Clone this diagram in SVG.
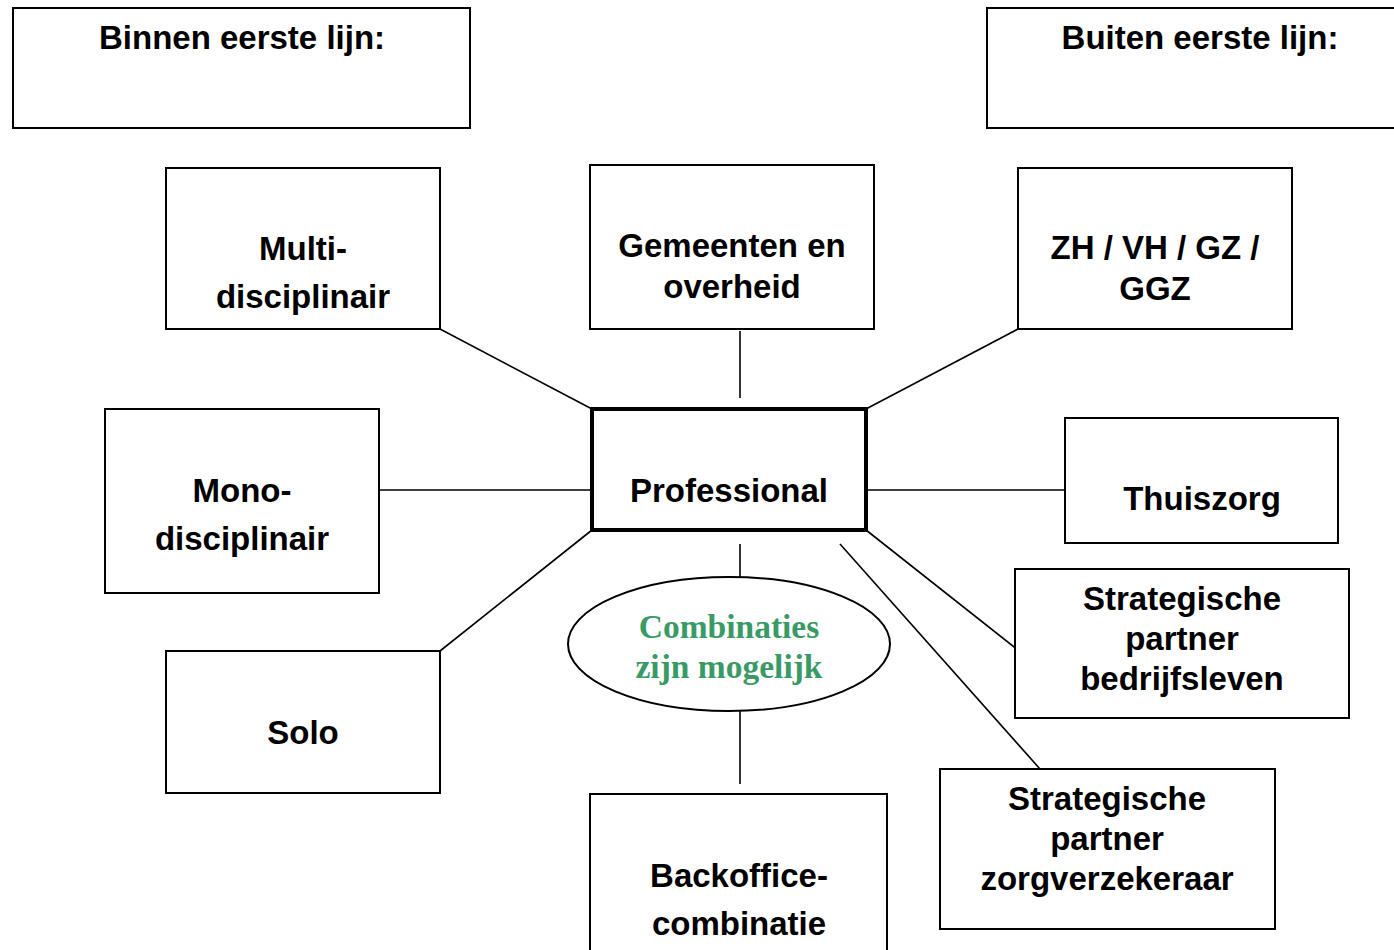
<svg xmlns="http://www.w3.org/2000/svg" width="1394" height="950" viewBox="0 0 1394 950">
<style>
.box{fill:#fff;stroke:#000;stroke-width:2}
.main{fill:#fff;stroke:#000;stroke-width:4}
.t{font-family:"Liberation Sans",Arial,sans-serif;font-weight:bold;font-size:33px;fill:#000;text-anchor:middle}
.g{font-family:"Liberation Serif","Times New Roman",serif;font-weight:bold;font-size:33.5px;fill:#3a9a66;text-anchor:middle}
.c{stroke:#000;stroke-width:1.6;fill:none}
</style>
<rect width="1394" height="950" fill="#fff"/>
<g id="connectors">
<line class="c" x1="440" y1="329" x2="592" y2="409"/>
<line class="c" x1="740" y1="331" x2="740" y2="398"/>
<line class="c" x1="1018" y1="329" x2="866" y2="409"/>
<line class="c" x1="379" y1="490" x2="592" y2="490"/>
<line class="c" x1="866" y1="490" x2="1065" y2="490"/>
<line class="c" x1="440" y1="651" x2="592" y2="530"/>
<line class="c" x1="866" y1="530" x2="1018" y2="650"/>
<line class="c" x1="840" y1="544" x2="1040" y2="769"/>
<line class="c" x1="740" y1="544" x2="740" y2="577"/>
<line class="c" x1="740" y1="711" x2="740" y2="784"/>
</g>
<g id="binnen"><rect class="box" x="13" y="8" width="457" height="120"/><text class="t" x="242" y="49">Binnen eerste lijn:</text></g>
<g id="buiten"><rect class="box" x="987" y="8" width="420" height="120"/><text class="t" x="1200" y="49">Buiten eerste lijn:</text></g>
<g id="multi"><rect class="box" x="166" y="168" width="274" height="161"/><text class="t" x="303" y="260">Multi-</text><text class="t" x="303" y="308">disciplinair</text></g>
<g id="gemeenten"><rect class="box" x="590" y="165" width="284" height="164"/><text class="t" x="732" y="257">Gemeenten en</text><text class="t" x="732" y="298">overheid</text></g>
<g id="zh"><rect class="box" x="1018" y="168" width="274" height="161"/><text class="t" x="1155" y="259">ZH / VH / GZ /</text><text class="t" x="1155" y="300">GGZ</text></g>
<g id="mono"><rect class="box" x="105" y="409" width="274" height="184"/><text class="t" x="242" y="502">Mono-</text><text class="t" x="242" y="550">disciplinair</text></g>
<g id="professional"><rect class="main" x="592" y="409" width="274" height="121"/><text class="t" x="729" y="502">Professional</text></g>
<g id="thuiszorg"><rect class="box" x="1065" y="418" width="273" height="125"/><text class="t" x="1202" y="510">Thuiszorg</text></g>
<g id="bedrijfsleven"><rect class="box" x="1015" y="569" width="334" height="149"/><text class="t" x="1182" y="610">Strategische</text><text class="t" x="1182" y="650">partner</text><text class="t" x="1182" y="690">bedrijfsleven</text></g>
<g id="solo"><rect class="box" x="166" y="651" width="274" height="142"/><text class="t" x="303" y="744">Solo</text></g>
<g id="combinaties"><ellipse cx="729" cy="644" rx="161" ry="67" fill="#fff" stroke="#000" stroke-width="2"/><text class="g" x="729" y="638">Combinaties</text><text class="g" x="729" y="678">zijn mogelijk</text></g>
<g id="backoffice"><rect class="box" x="590" y="794" width="297" height="170"/><text class="t" x="739" y="887">Backoffice-</text><text class="t" x="739" y="935">combinatie</text></g>
<g id="zorgverzekeraar"><rect class="box" x="940" y="769" width="335" height="160"/><text class="t" x="1107" y="810">Strategische</text><text class="t" x="1107" y="850">partner</text><text class="t" x="1107" y="890">zorgverzekeraar</text></g>
</svg>
